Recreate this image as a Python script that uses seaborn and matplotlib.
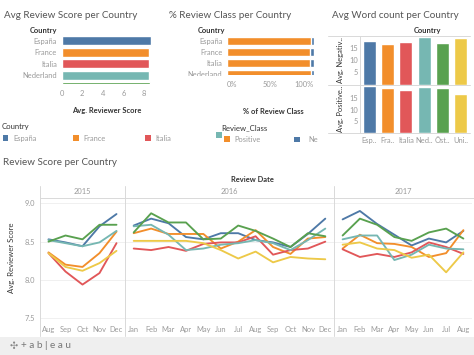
import matplotlib
matplotlib.use("Agg")
import matplotlib.pyplot as plt
from matplotlib.patches import Rectangle
from matplotlib.lines import Line2D
from matplotlib.transforms import Bbox, TransformedBbox
import seaborn as sns
import pandas as pd

sns.set_theme(style="white")
plt.rcParams['font.family'] = ['Lato', 'DejaVu Sans']

W, H = 474, 355

# ---------------- data ----------------
countries = ["España", "France", "Italia", "Nederland", "Österreich", "United Kingdom"]
short_labels = ["Esp..", "Fra..", "Italia", "Ned..", "Öst..", "Uni.."]
colors = ["#4E79A7", "#F28E2B", "#E15759", "#76B7B2", "#59A14F", "#EDC948"]

avg_score = [8.62, 8.50, 8.42, 8.50, 8.55]          # Österreich row is scrolled/clipped
positive_pct = [96.3, 95.9, 95.6, 96.0]
total_pct = [100, 100, 100, 100]
neg_words = [18.2, 16.8, 17.6, 19.6, 17.1, 19.3]
pos_words = [20.3, 19.5, 18.6, 20.1, 19.5, 16.9]

months_2015 = ["Aug", "Sep", "Oct", "Nov", "Dec"]
months_2016 = ["Jan", "Feb", "Mar", "Apr", "May", "Jun", "Jul", "Aug", "Sep", "Oct", "Nov", "Dec"]
months_2017 = ["Jan", "Feb", "Mar", "Apr", "May", "Jun", "Jul", "Aug"]

scores_2015 = {
    "España":         [8.53, 8.49, 8.44, 8.70, 8.86],
    "France":         [8.36, 8.20, 8.17, 8.35, 8.63],
    "Italia":         [8.35, 8.11, 7.94, 8.09, 8.48],
    "Nederland":      [8.52, 8.48, 8.44, 8.49, 8.64],
    "Österreich":     [8.50, 8.58, 8.53, 8.72, 8.72],
    "United Kingdom": [8.35, 8.17, 8.12, 8.22, 8.38],
}
scores_2016 = {
    "España":         [8.71, 8.80, 8.74, 8.56, 8.53, 8.61, 8.61, 8.52, 8.49, 8.43, 8.60, 8.80],
    "France":         [8.61, 8.67, 8.60, 8.60, 8.60, 8.41, 8.50, 8.65, 8.43, 8.34, 8.54, 8.56],
    "Italia":         [8.41, 8.39, 8.43, 8.38, 8.47, 8.49, 8.49, 8.57, 8.33, 8.39, 8.41, 8.50],
    "Nederland":      [8.70, 8.72, 8.59, 8.39, 8.41, 8.46, 8.48, 8.52, 8.48, 8.39, 8.52, 8.67],
    "Österreich":     [8.62, 8.87, 8.75, 8.75, 8.53, 8.54, 8.71, 8.64, 8.54, 8.43, 8.61, 8.57],
    "United Kingdom": [8.51, 8.51, 8.51, 8.51, 8.48, 8.39, 8.28, 8.37, 8.23, 8.30, 8.28, 8.27],
}
scores_2017 = {
    "España":         [8.79, 8.90, 8.73, 8.59, 8.45, 8.54, 8.49, 8.64],
    "France":         [8.41, 8.59, 8.48, 8.47, 8.43, 8.30, 8.35, 8.65],
    "Italia":         [8.40, 8.30, 8.34, 8.30, 8.36, 8.49, 8.43, 8.34],
    "Nederland":      [8.53, 8.58, 8.58, 8.26, 8.33, 8.46, 8.41, 8.40],
    "Österreich":     [8.58, 8.80, 8.72, 8.56, 8.51, 8.62, 8.67, 8.54],
    "United Kingdom": [8.46, 8.49, 8.41, 8.39, 8.29, 8.33, 8.10, 8.36],
}

palette = dict(zip(countries, colors))
TITLE_C = "#555555"
TICK_C = "#9a9a9a"
HEAD_C = "#333333"
LINE_C = "#d9d9d9"
TITLE_FS = 7.1

fig = plt.figure(figsize=(W / 100, H / 100), dpi=100)
fig.patch.set_facecolor("white")


def add_ax(x0, y0, x1, y1):
    return fig.add_axes([x0 / W, 1 - y1 / H, (x1 - x0) / W, (y1 - y0) / H])


def ftext(x, y, s, **kw):
    kw.setdefault("va", "center")
    fig.text(x / W, 1 - y / H, s, **kw)


def fline(x0, y0, x1, y1, color=LINE_C, lw=0.7):
    fig.add_artist(Line2D([x0 / W, x1 / W], [1 - y0 / H, 1 - y1 / H],
                          transform=fig.transFigure, color=color, lw=lw))


def frect(x0, y0, x1, y1, color):
    fig.add_artist(Rectangle((x0 / W, 1 - y1 / H), (x1 - x0) / W, (y1 - y0) / H,
                             transform=fig.transFigure, color=color, lw=0))


def clean(ax):
    for s in ax.spines.values():
        s.set_visible(False)
    ax.set_xlabel("")
    ax.set_ylabel("")
    ax.set_facecolor("none")


# ---------------- chart 1: avg review score ----------------
ftext(4, 15, "Avg Review Score per Country", fontsize=TITLE_FS, color=TITLE_C, ha="left")
ftext(44, 30.5, "Country", fontsize=5.4, color=HEAD_C, ha="center", fontweight="bold")
ax1 = add_ax(61.5, 35, 152, 83.8)
df1 = pd.DataFrame({"country": countries[:5], "score": avg_score})
sns.barplot(data=df1, x="score", y="country", hue="country", palette=colors[:5],
            orient="h", width=0.78, saturation=1, legend=False, ax=ax1)
ax1.set_ylim(3.75, -0.5)
ax1.set_xlim(0, 8.75)
ax1.set_xticks([0, 2, 4, 6, 8])
ax1.set_xticklabels(["0", "2", "4", "6", "8"])
clean(ax1)
ax1.tick_params(axis="x", length=0, pad=4.6, labelsize=5.4, labelcolor=TICK_C)
ax1.tick_params(axis="y", length=0, pad=3.2, labelsize=5.4, labelcolor=TICK_C)
ftext(107, 110.5, "Avg. Reviewer Score", fontsize=5.4, color=HEAD_C, ha="center", fontweight="bold")

# ---------------- chart 2: % review class ----------------
ftext(169, 15, "% Review Class per Country", fontsize=TITLE_FS, color=TITLE_C, ha="left")
ftext(211, 30.5, "Country", fontsize=5.4, color=HEAD_C, ha="center", fontweight="bold")
ax2 = add_ax(226.7, 35.2, 314, 75.0)
df2 = pd.DataFrame({"country": countries[:4], "positive": positive_pct, "total": total_pct})
sns.barplot(data=df2, x="total", y="country", color=colors[0], orient="h",
            width=0.73, saturation=1, ax=ax2)
sns.barplot(data=df2, x="positive", y="country", color=colors[1], orient="h",
            width=0.73, saturation=1, ax=ax2)
ax2.set_ylim(3.12, -0.5)
ax2.set_xlim(0, 100)
ax2.set_xticks([0, 50, 100])
ax2.set_xticklabels(["0%", "50%", "100%"])
clean(ax2)
ax2.tick_params(axis="x", length=0, pad=4.0, labelsize=5.4, labelcolor=TICK_C)
ax2.tick_params(axis="y", length=0, pad=3.2, labelsize=5.4, labelcolor=TICK_C)
xl = ax2.get_xticklabels()
xl[0].set_ha("left")
xl[-1].set_ha("right")
clipbox = TransformedBbox(Bbox.from_extents(0, 1 - 75.5 / H, 1, 1), fig.transFigure)
for t in ax2.yaxis.get_major_ticks():
    t.label1.set_clip_on(True)
    t.label1.set_clip_box(clipbox)
ftext(273, 111, "% of Review Class", fontsize=5.4, color=HEAD_C, ha="center", fontweight="bold")

# ---------------- chart 3: avg word count ----------------
ftext(332.5, 15, "Avg Word count per Country", fontsize=TITLE_FS, color=TITLE_C, ha="left")
ftext(428, 31, "Country", fontsize=5.4, color=HEAD_C, ha="center", fontweight="bold")
df3 = pd.DataFrame({"country": countries, "label": short_labels,
                    "neg": neg_words, "pos": pos_words})
ax3a = add_ax(360.2, 35.5, 469.8, 84.5)
ax3b = add_ax(360.2, 84.5, 469.8, 132.7)
sns.barplot(data=df3, x="label", y="neg", hue="label", palette=colors, width=0.7,
            saturation=1, legend=False, ax=ax3a)
sns.barplot(data=df3, x="label", y="pos", hue="label", palette=colors, width=0.7,
            saturation=1, legend=False, ax=ax3b)
for ax, top in ((ax3a, 20.3), (ax3b, 21.0)):
    ax.set_ylim(0, top)
    ax.set_xlim(-0.5, 5.5)
    ax.set_yticks([5, 10, 15])
    clean(ax)
    ax.spines["left"].set_visible(True)
    ax.spines["left"].set_color(LINE_C)
    ax.spines["left"].set_linewidth(0.7)
    ax.tick_params(axis="y", length=0, pad=1.5, labelsize=5.4, labelcolor=TICK_C)
    ax.tick_params(axis="x", length=0, pad=3.0, labelsize=5.4, labelcolor=TICK_C)
ax3a.set_xticks([])
ftext(340, 60, "Avg. Negativ..", fontsize=5.4, color=HEAD_C, rotation=90, ha="center")
ftext(340, 108.5, "Avg. Positive..", fontsize=5.4, color=HEAD_C, rotation=90, ha="center")
for yy in (35.5, 84.5, 132.7):
    fline(328, yy, 470, yy)

# ---------------- legends ----------------
ftext(1.5, 126, "Country", fontsize=5.6, color=HEAD_C, ha="left")
for x0, name, c in ((2.7, "España", colors[0]), (73.3, "France", colors[1]), (145, "Italia", colors[2])):
    frect(x0, 135.3, x0 + 5.5, 140.8, c)
    ftext(x0 + 10.5, 138.5, name, fontsize=5.4, color=TICK_C, ha="left")
ftext(221.7, 127.3, "Review_Class", fontsize=5.6, color=HEAD_C, ha="left")
frect(216, 132.3, 221.5, 137.8, colors[3])
frect(224, 136.3, 229.8, 142, colors[1])
ftext(234.5, 139.3, "Positive", fontsize=5.4, color=TICK_C, ha="left")
frect(294.3, 136.5, 299.6, 142, colors[0])
ftext(308, 139.3, "Ne", fontsize=5.4, color=TICK_C, ha="left")

# ---------------- line chart ----------------
ftext(3, 162.5, "Review Score per Country", fontsize=TITLE_FS, color=TITLE_C, ha="left")
ftext(252, 180, "Review Date", fontsize=5.4, color=HEAD_C, ha="center", fontweight="bold")
panels = [(40, 125, months_2015, scores_2015, "2015"),
          (125, 334, months_2016, scores_2016, "2016"),
          (334, 472, months_2017, scores_2017, "2017")]
for i, (x0, x1, months, scores, year) in enumerate(panels):
    ax = add_ax(x0, 197.7, x1, 322)
    rows = []
    for c in countries:
        for j, v in enumerate(scores[c]):
            rows.append({"country": c, "idx": j, "score": v})
    df = pd.DataFrame(rows)
    ax.yaxis.grid(True, color="#eeeeee", lw=0.6)
    ax.set_axisbelow(True)
    sns.lineplot(data=df, x="idx", y="score", hue="country", palette=palette,
                 linewidth=1.35, legend=False, ax=ax)
    ax.set_xlim(-0.5, len(months) - 0.5)
    ax.set_ylim(7.452, 9.073)
    ax.set_xticks(range(len(months)))
    ax.set_xticklabels(months)
    ax.set_yticks([7.5, 8.0, 8.5, 9.0])
    clean(ax)
    ax.tick_params(axis="x", length=0, pad=2.6, labelsize=5.4, labelcolor=TICK_C)
    ax.tick_params(axis="y", length=0, pad=3.6, labelsize=5.4, labelcolor=TICK_C)
    if i > 0:
        ax.set_yticklabels([])
    ftext((x0 + x1) / 2, 192, year, fontsize=5.4, color=TICK_C, ha="center")
    fline(x0, 186, x0, 336)
fline(40, 197.7, 474, 197.7)
ftext(12, 258, "Avg. Reviewer Score", fontsize=5.6, color=HEAD_C, rotation=90, ha="center")

# ---------------- footer ----------------
frect(0, 336.5, 474, 355, "#efefef")
ftext(10, 346, "✣", fontsize=7, color="#888888", ha="left", family="DejaVu Sans")
ftext(21, 346, "+ a b | e a u", fontsize=7.2, color="#777777", ha="left")

fig.savefig("out.png", dpi=100, facecolor="white")
